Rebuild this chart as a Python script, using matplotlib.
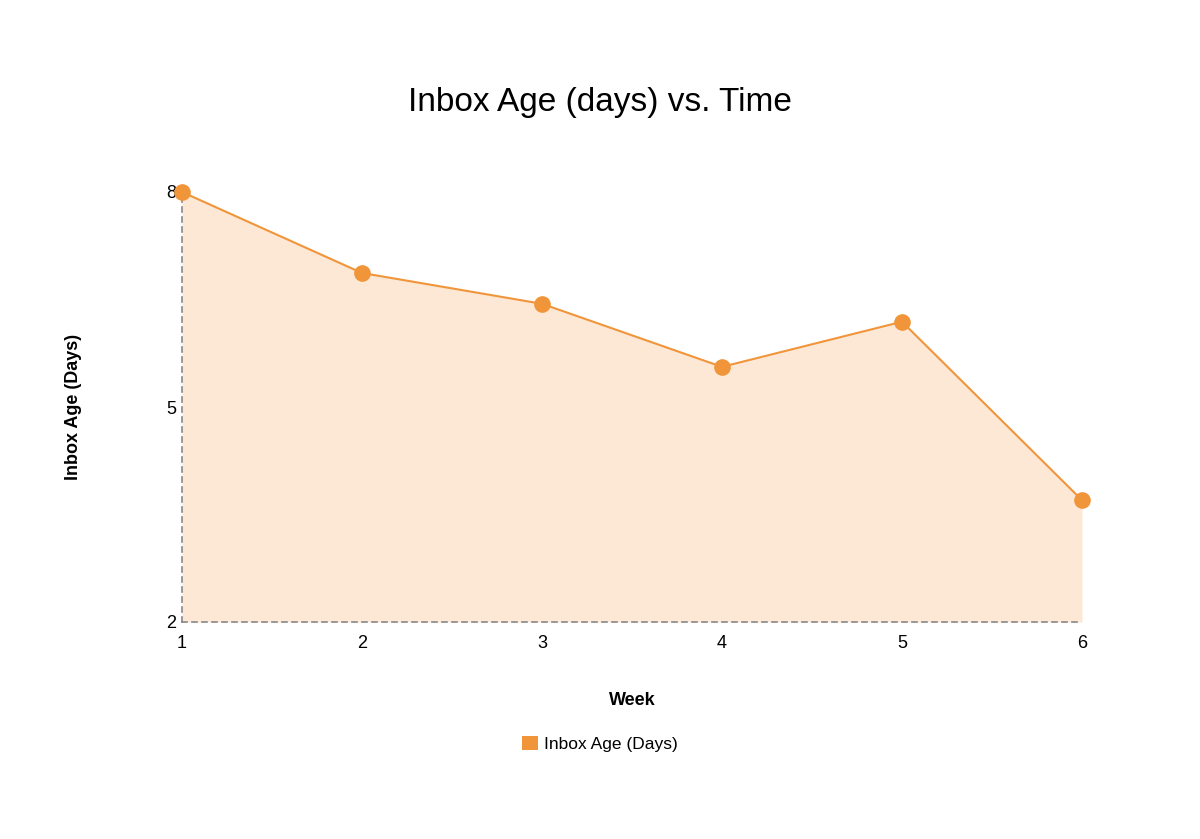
import matplotlib
matplotlib.use("Agg")
import matplotlib.pyplot as plt
from matplotlib.patches import Patch

plt.rcParams['font.family'] = ['Liberation Sans', 'DejaVu Sans']

weeks = [1, 2, 3, 4, 5, 6]
inbox_age = [8.0, 6.87, 6.44, 5.56, 6.19, 3.70]
y_ticks = [2, 5, 8]
series_name = "Inbox Age (Days)"

line_color = "#f0953a"
fill_color = "#fde8d6"

fig = plt.figure(figsize=(12, 8.39), dpi=100)
ax = fig.add_axes([182/1200, 1-622/839, 900/1200, 430/839])

ax.fill_between(weeks, inbox_age, 2, color=fill_color, linewidth=0, zorder=1)
ax.plot(weeks, inbox_age, color=line_color, linewidth=1.5, marker='o',
        markersize=12, markeredgewidth=0, zorder=3, clip_on=False)

ax.set_xlim(1, 6)
ax.set_ylim(2, 8)
ax.set_xticks(weeks)
ax.set_yticks(y_ticks)
ax.tick_params(length=0, labelsize=13)
ax.tick_params(axis='x', pad=9)
ax.tick_params(axis='y', pad=4)

for s in ['top', 'right']:
    ax.spines[s].set_visible(False)
for s in ['left', 'bottom']:
    ax.spines[s].set_linestyle((0, (3, 3)))
    ax.spines[s].set_color('#888888')
    ax.spines[s].set_linewidth(1.2)
    ax.spines[s].set_zorder(2)

ax.set_xlabel("Week", fontsize=13, fontweight='bold', labelpad=29)
ax.set_ylabel("Inbox Age (Days)", fontsize=13, fontweight='bold')
ax.yaxis.set_label_coords(-(182-82)/900, 0.5)

fig.text(0.5, 1-103/839, "Inbox Age (days) vs. Time", fontsize=24, ha='center', va='center')

handle = Patch(facecolor=line_color, edgecolor='none')
fig.legend([handle], [series_name], loc='center', bbox_to_anchor=(0.5, 1-744/839),
           frameon=False, fontsize=12.5, handlelength=0.9, handleheight=0.9, handletextpad=0.35)

fig.savefig("out.png", dpi=100)
